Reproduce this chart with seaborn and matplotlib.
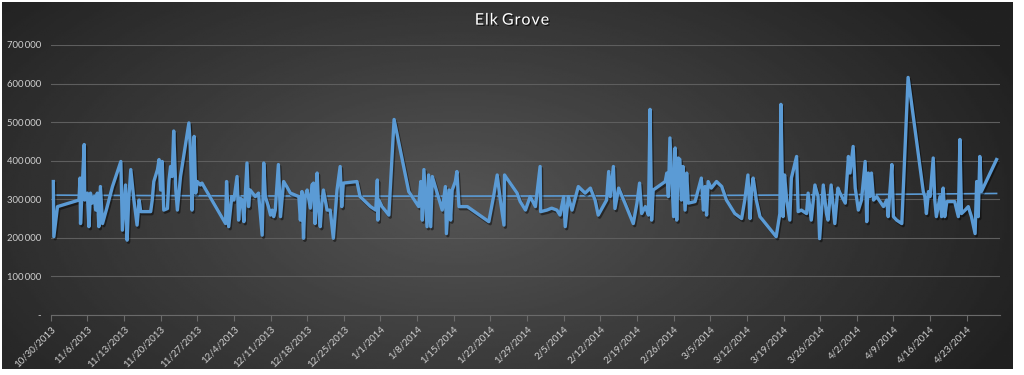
import numpy as np
import pandas as pd
import matplotlib.pyplot as plt
import matplotlib.patheffects as pe
import seaborn as sns

# days after 10/30/2013 (in the order the rows appear) and value in thousands
day_offset = [
    0.5, 0.6, 1.3, 5.4, 5.6, 5.7, 6.4, 6.5, 7.0, 7.3, 7.6, 7.9, 8.3, 8.6, 8.9, 9.2, 9.5, 9.9,
    10.8, 11.8, 13.4, 13.7, 14.3, 14.6, 14.9, 15.3, 15.9, 16.5, 16.9, 17.2, 19.1, 19.4, 19.7,
    20.4, 20.7, 21.0, 21.3, 21.6, 22.3, 22.6, 22.9, 23.2, 23.5, 23.9, 24.2, 24.8, 26.4, 26.7,
    27.0, 27.4, 27.7, 28.0,
    28.6, 28.9, 33.4, 33.6, 34.0, 34.6, 35.0, 35.6, 35.9, 36.2, 36.6, 36.9, 37.5, 37.8, 38.1,
    39.1, 39.7, 40.4, 40.7, 41.0, 41.6, 42.0, 42.3, 42.6, 42.9, 43.5, 43.9, 44.5, 45.1, 45.8,
    47.4, 47.7, 48.0, 48.3, 48.6, 49.0, 49.6, 49.9, 50.2, 50.5, 50.9, 51.2, 51.5, 51.8, 52.1,
    52.8, 53.4, 54.0, 54.7, 55.3, 55.6, 55.9, 58.5, 59.1,
    61.1, 62.1, 62.4, 62.5, 62.7, 63.3, 64.6, 65.6, 68.4, 70.3, 70.7, 71.0, 71.3, 71.9, 72.2,
    72.6, 72.9, 74.8, 75.4, 75.6, 76.1, 76.4, 76.7, 77.3, 77.6, 78.0, 79.6, 83.7, 84.6, 85.3,
    85.9, 86.6, 86.7, 89.1, 89.7, 90.7,
    91.6, 92.6, 93.5, 93.6, 94.8, 95.7, 96.7, 97.3, 98.0, 98.3, 98.9, 99.6, 100.8, 102.1,
    103.1, 104.0, 104.6, 106.2, 106.6, 106.9, 107.5, 107.8, 108.5, 109.7, 111.3, 112.0, 112.5,
    112.9, 113.6, 114.2, 114.5, 114.8, 115.1, 117.4, 117.7, 118.0, 118.3, 119.0, 119.3, 119.6,
    119.9,
    120.2, 120.5, 120.8, 121.2, 121.5, 121.8, 123.1, 124.3, 124.7, 125.0, 125.3, 125.6, 126.2,
    127.2, 128.2, 129.1, 130.7, 132.0, 132.6, 133.2, 133.6, 133.9, 134.2, 134.8, 135.5, 138.6,
    139.3, 139.5, 139.9, 140.2, 140.6, 141.2, 141.5, 142.5, 142.8, 143.4, 144.4, 144.7, 145.3,
    146.0, 146.6, 146.9, 147.6, 148.2, 148.5, 149.1, 149.8, 150.4,
    150.8, 151.8, 152.4, 152.7, 153.3, 153.7, 154.3, 154.9, 155.6, 155.9, 156.2, 156.5, 156.8,
    157.2, 157.8, 159.1, 159.7, 160.0, 160.3, 160.7, 161.0, 161.6, 162.6, 163.8, 166.7, 167.0,
    167.3, 167.7, 168.0, 168.6, 168.9, 169.2, 169.9, 170.2, 170.5, 170.8, 171.2, 172.7, 173.4,
    173.7, 174.0, 174.7, 175.3, 175.9, 176.6, 176.9, 177.2, 177.5, 177.8, 180.7,
]
value_k = [
    346, 203, 281, 298, 355, 237, 442, 298, 316, 229, 316, 290, 307, 272, 316, 229, 333, 237,
    281, 333, 398, 220, 337, 194, 298, 377, 298, 233, 298, 268, 268, 298, 346,
    377, 403, 324, 398, 272, 276, 350, 385, 359, 477, 324, 272, 359, 498, 429,
    272, 463, 316, 346,
    337, 342, 237, 346, 229, 307, 298, 359, 246, 303, 298, 242, 394, 281, 324,
    307, 316, 207, 394, 307, 281, 259, 272, 255, 272, 390, 255, 346, 333, 316,
    307, 246, 320, 199, 307, 324, 277, 337, 342, 237, 368, 272, 229, 290, 324,
    272, 272, 199, 324, 385, 281, 342, 346, 307,
    281, 272, 350, 246, 298, 281, 259, 507, 320, 281, 346, 246, 377, 229, 363,
    229, 359, 272, 333, 211, 324, 246, 324, 346, 372, 281, 281, 242, 307, 363,
    298, 233, 363, 316, 294, 272,
    307, 281, 385, 268, 272, 277, 272, 259, 307, 229, 307, 272, 333, 316,
    329, 298, 259, 298, 372, 307, 385, 276, 329, 290, 237, 290, 342,
    263, 281, 259, 533, 246, 324, 346, 368, 307, 459, 255, 433, 246,
    407,
    403, 298, 385, 272, 368, 290, 294, 355, 272, 333, 259, 346, 329,
    346, 333, 298, 263, 250, 298, 363, 250, 324, 355, 298, 255, 203,
    263, 546, 255, 363, 298, 246, 355, 411, 268, 272, 263, 316, 246,
    337, 307, 198, 337, 263, 246, 337, 237, 329,
    316, 290, 411, 368, 437, 329, 272, 298, 398, 242, 368, 307, 368,
    298, 307, 281, 298, 255, 316, 390, 255, 246, 237, 616, 320, 307,
    263, 320, 307, 407, 298, 255, 307, 255, 329, 255, 294, 294, 255,
    455, 263, 272, 281, 255, 211, 346, 255, 411, 320, 403,
]

tick_days = list(range(0, 176, 7))
tick_labels = [f"{d.month}/{d.day}/{d.year}"
               for d in pd.Timestamp("2013-10-30") + pd.to_timedelta(tick_days, unit="D")]
y_ticks = [0, 100000, 200000, 300000, 400000, 500000, 600000, 700000]
y_labels = ["-"] + [f"{v // 1000}\u2009000" for v in y_ticks[1:]]

df = pd.DataFrame({"day": day_offset, "value": np.array(value_k) * 1000})

plt.rcParams["font.family"] = ["Lato", "DejaVu Sans"]
blue = "#5b9bd5"
label_col = "#d0d0d0"

fig = plt.figure(figsize=(10.24, 3.75), dpi=100, facecolor="white")

# dark radial gradient panel behind the chart
bg = fig.add_axes([2 / 1024, 6 / 375, 1011 / 1024, 367 / 375])
gx, gy = np.meshgrid(np.linspace(0, 1, 400), np.linspace(0, 1, 200))
r = np.sqrt(((gx - 0.45) / 0.6) ** 2 + ((gy - 0.55) / 0.9) ** 2)
r = np.clip(r, 0, 1)
shade = 0.33 * (1 - r) + 0.13 * r
bg.imshow(shade, cmap="gray", vmin=0, vmax=1, aspect="auto", extent=[0, 1, 0, 1])
bg.set_axis_off()

ax = fig.add_axes([50.7 / 1024, 60 / 375, 949 / 1024, 270 / 375])
ax.set_facecolor("none")

sns.regplot(data=df, x="day", y="value", order=2, scatter=False, ci=None, ax=ax,
            line_kws={"color": blue, "lw": 1.2})
sns.lineplot(data=df, x="day", y="value", sort=False, estimator=None, ax=ax,
             color=blue, lw=2.4,
             path_effects=[pe.SimpleLineShadow(offset=(1, -1.5), shadow_color="black", alpha=0.45),
                           pe.Normal()])

ax.set_xlim(0, 181.3)
ax.set_ylim(0, 700000)
ax.set_yticks(y_ticks)
ax.set_yticklabels(y_labels, color=label_col, fontsize=6.8)
ax.set_xticks(tick_days)
ax.set_xticklabels(tick_labels, rotation=45, ha="right", rotation_mode="anchor",
                   color=label_col, fontsize=7)
ax.tick_params(axis="y", length=0, pad=7)
ax.tick_params(axis="x", length=4, color="#6a6a6a", pad=3)
ax.grid(axis="y", color="#5e5e5e", lw=0.8)
ax.set_axisbelow(True)
for s in ["top", "right", "left"]:
    ax.spines[s].set_visible(False)
ax.spines["bottom"].set_color("#6a6a6a")
ax.set_xlabel("")
ax.set_ylabel("")

fig.text(0.5, 0.945, "E l k  G r o v e".replace(" ", "\u200a").replace("\u200a\u200a", " "),
         ha="center", va="center", color="white", fontsize=11.5,
         path_effects=[pe.withSimplePatchShadow(offset=(1, -1), shadow_rgbFace="black", alpha=0.6)])

fig.savefig("out.png", dpi=100, facecolor="white")
